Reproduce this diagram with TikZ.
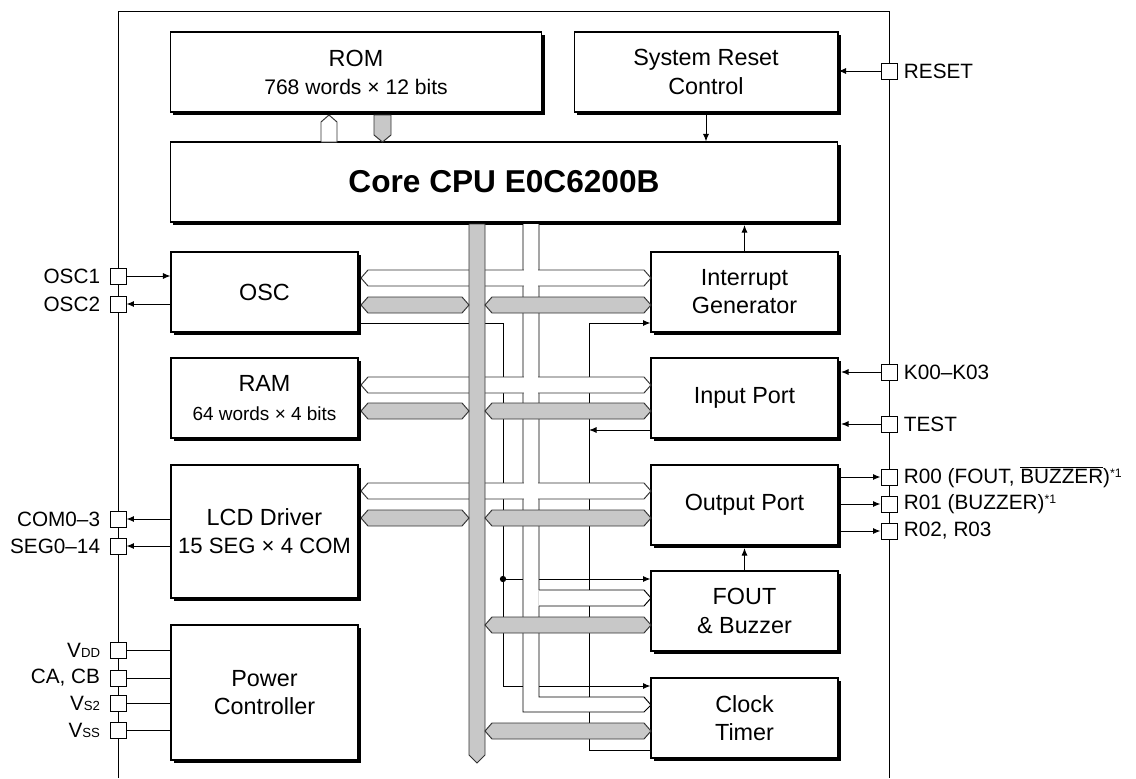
\documentclass[tikz,border=0pt]{standalone}
\usepackage{fontspec}
\setmainfont{Liberation Sans}
\usepackage{tikz}
\usetikzlibrary{arrows.meta}
\usetikzlibrary{positioning}
\definecolor{busgray}{RGB}{200,200,200}
\newcommand{\hbus}[4]{\filldraw[fill=#4, draw=black!80, line width=0.55pt] (#1,#3) -- (#1+7,#3-8) -- (#2-7,#3-8) -- (#2,#3) -- (#2-7,#3+8) -- (#1+7,#3+8) -- cycle;}
\newcommand{\wgap}[1]{\fill[white] (523.7,#1-9) rectangle (538.3,#1+9);}
\newcommand{\lowcap}[1]{{\fontsize{7.5}{8}\selectfont #1}}

\begin{document}
\begin{tikzpicture}[x=0.02cm, y=-0.02cm, line width=0.55pt,
  blk/.style={draw, fill=white, align=center, inner sep=0pt, line width=0.6pt,
    font=\fontsize{13.3}{16}\selectfont,
    preaction={fill=black, transform canvas={shift={(0.055cm,-0.055cm)}}}},
  sblk/.style={blk, minimum width=3.74cm, minimum height=1.6cm},
  pin/.style={draw, fill=white, minimum size=0.32cm, inner sep=0pt},
  ptxt/.style={inner sep=0pt, font=\fontsize{11.8}{14}\selectfont},
  sig/.style={-{Latex[length=1.5mm,width=1.2mm]}}]
\useasboundingbox (0,0) rectangle (1136,778);
\draw (118,778) -- (118,11) -- (889,11) -- (889,778);

\node[blk, minimum width=7.44cm, minimum height=1.6cm] (rom) at (356,72) {ROM\\{\fontsize{12}{16}\selectfont 768 words × 12 bits}};
\node[blk, minimum width=5.28cm, minimum height=1.6cm] (sysrst) at (706,72) {System Reset\\Control};
\node[blk, minimum width=13.36cm, minimum height=1.6cm, font=\fontsize{18}{20}\selectfont\bfseries] (cpu) at (504,182) {Core CPU E0C6200B};
\node[sblk] (osc) at (264.5,292) {OSC};
\node[sblk] (ram) at (264.5,398) {RAM\\{\fontsize{10.8}{16}\selectfont 64 words × 4 bits}};
\node[sblk, minimum height=2.66cm] (lcd) at (264.5,531.5) {LCD Driver\\{\fontsize{12.6}{16}\selectfont 15 SEG × 4 COM}};
\node[sblk, minimum height=2.7cm] (pwr) at (264.5,692.5) {Power\\Controller};
\node[sblk] (intg) at (744.5,292) {Interrupt\\Generator};
\node[sblk] (inp) at (744.5,398) {Input Port};
\node[sblk] (outp) at (744.5,505) {Output Port};
\node[sblk] (fout) at (744.5,611) {FOUT\\\& Buzzer};
\node[sblk] (clk) at (744.5,718) {Clock\\Timer};

\node[pin] (osc1p) at (118,276) {};
\node[pin] (osc2p) at (118,304) {};
\node[pin] (comp) at (118,519) {};
\node[pin] (segp) at (118,546) {};
\node[pin] (vddp) at (118,650) {};
\node[pin] (cap) at (118,678) {};
\node[pin] (vs2p) at (118,703) {};
\node[pin] (vssp) at (118,730) {};
\node[pin] (rstp) at (889,71) {};
\node[pin] (k0p) at (889,372) {};
\node[pin] (testp) at (889,424) {};
\node[pin] (r0p) at (889,477) {};
\node[pin] (r1p) at (889,504) {};
\node[pin] (r2p) at (889,531) {};

\node[ptxt, left=0.18cm of osc1p] (osc1t) {OSC1};
\node[ptxt, left=0.18cm of osc2p] (osc2t) {OSC2};
\node[ptxt, left=0.18cm of comp] (comt) {COM0–3};
\node[ptxt, left=0.18cm of segp] (segt) {SEG0–14};
\node[ptxt, left=0.18cm of vddp] (vddt) {V\lowcap{DD}};
\node[ptxt, left=0.18cm of cap] (cat) {CA, CB};
\node[ptxt, left=0.18cm of vs2p] (vs2t) {V\lowcap{S2}};
\node[ptxt, left=0.18cm of vssp] (vsst) {V\lowcap{SS}};
\node[ptxt, right=0.12cm of rstp] (rstt) {RESET};
\node[ptxt, right=0.12cm of k0p] (k0t) {K00–K03};
\node[ptxt, right=0.12cm of testp] (testt) {TEST};
\node[ptxt, right=0.12cm of r0p] (r0t) {R00 (FOUT, $\overline{\mbox{BUZZER}}$)\raisebox{3.5pt}{\fontsize{7}{7}\selectfont *1}};
\node[ptxt, right=0.12cm of r1p] (r1t) {R01 (BUZZER)\raisebox{3.5pt}{\fontsize{7}{7}\selectfont *1}};
\node[ptxt, right=0.12cm of r2p] (r2t) {R02, R03};

\draw[sig] (rstp.west) -- (sysrst.east |- rstp);
\draw[sig] (sysrst.south) -- (sysrst.south |- cpu.north);
\draw[sig, shorten >=0.05cm] (intg.north) -- (intg.north |- cpu.south);
\draw[sig, shorten >=0.05cm] (fout.north) -- (outp.south);
\draw[sig] (osc1p.east) -- (osc.west |- osc1p);
\draw[sig] (osc.west |- osc2p) -- (osc2p.east);
\draw[sig] (lcd.west |- comp) -- (comp.east);
\draw[sig] (lcd.west |- segp) -- (segp.east);
\draw (vddp.east) -- (pwr.west |- vddp);
\draw (cap.east) -- (pwr.west |- cap);
\draw (vs2p.east) -- (pwr.west |- vs2p);
\draw (vssp.east) -- (pwr.west |- vssp);
\draw[sig, shorten >=0.05cm] (k0p.west) -- (inp.east |- k0p);
\draw[sig, shorten >=0.05cm] (testp.west) -- (inp.east |- testp);
\draw[sig] (outp.east |- r0p) -- (r0p.west);
\draw[sig] (outp.east |- r1p) -- (r1p.west);
\draw[sig] (outp.east |- r2p) -- (r2p.west);

\coordinate (clkj) at (503,579);
\draw[sig] (osc.east |- 0,323) -- (503,323) -- (503,686) -- (clk.west |- 0,686);
\draw[sig] (clkj) -- (fout.west |- clkj);
\fill (clkj) circle[radius=1.8pt];
\draw[sig] (clk.west |- 0,750) -- (589,750) -- (589,323) -- (intg.west |- 0,323);
\draw[sig] (inp.west |- 0,430) -- (589,430);

\fill[white] (523,224) -- (523,712) -- (644,712) -- (651,705) -- (644,697) -- (539,697) -- (539,224) -- cycle;
\draw (523,224) -- (523,712) -- (644,712) -- (651,705) -- (644,697) -- (539,697) -- (539,224);
\fill[white] (538.4,590) -- (644,590) -- (651,598) -- (644,606) -- (538.4,606) -- cycle;
\draw (539,590) -- (644,590) -- (651,598) -- (644,606) -- (539,606);
\hbus{361}{651}{278}{white} \wgap{278}
\hbus{361}{651}{385}{white} \wgap{385}
\hbus{361}{651}{491}{white} \wgap{491}

\filldraw[fill=busgray, draw=black!80] (469,224) -- (485,224) -- (485,755) -- (477,763) -- (469,755) -- cycle;
\hbus{361}{469}{305}{busgray}
\hbus{485}{651}{305}{busgray}
\hbus{361}{469}{411}{busgray}
\hbus{485}{651}{411}{busgray}
\hbus{361}{469}{518}{busgray}
\hbus{485}{651}{518}{busgray}
\hbus{485}{651}{625}{busgray}
\hbus{485}{651}{731}{busgray}

\filldraw[fill=white, draw=black!80] (321,142) -- (321,122) -- (329,115) -- (337,122) -- (337,142) -- cycle;
\filldraw[fill=busgray, draw=black!80] (374,115) -- (391,115) -- (391,135) -- (382.5,142) -- (374,135) -- cycle;
\end{tikzpicture}
\end{document}
